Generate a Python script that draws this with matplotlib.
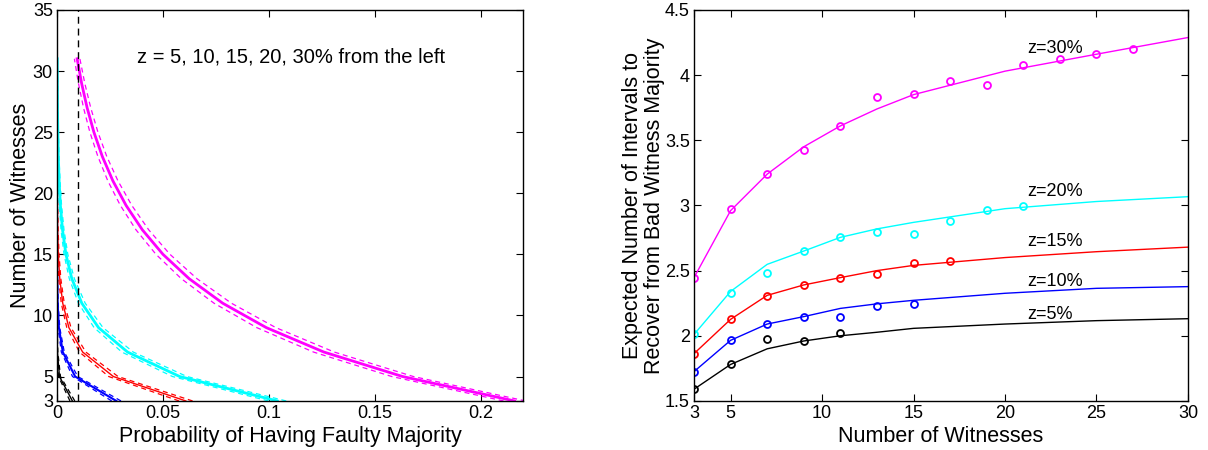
import numpy as np
import matplotlib
matplotlib.use("Agg")
import matplotlib.pyplot as plt

plt.rcParams['font.family'] = ['Liberation Sans', 'DejaVu Sans']

# ---- left panel: probability of faulty majority vs number of witnesses
witnesses = [3, 5, 7, 9, 11, 13, 15, 17, 19, 21, 23, 25, 27, 29, 31]

prob_5 = [0.00725, 0.00116, 0.00019, 0.00003, 0.000006, 0, 0, 0, 0, 0, 0, 0, 0, 0, 0]
prob_10 = [0.028, 0.00856, 0.00273, 0.00089, 0.0003, 0.0001, 0.00003, 0.00001,
           0, 0, 0, 0, 0, 0, 0]
prob_15 = [0.0608, 0.0266, 0.0121, 0.0056, 0.0027, 0.0013, 0.0006, 0.0003,
           0.00015, 0.00007, 0.00004, 0.00002, 0.00001, 0.000005, 0.000002]
prob_20 = [0.104, 0.0579, 0.0333, 0.0196, 0.0117, 0.0070, 0.0042, 0.0026,
           0.0016, 0.0010, 0.0006, 0.0004, 0.0002, 0.00014, 0.00009]
prob_30 = [0.216, 0.1631, 0.1260, 0.0988, 0.0782, 0.0624, 0.0500, 0.0403,
           0.0326, 0.0264, 0.0214, 0.0174, 0.0142, 0.0116, 0.0095]

# half widths of the dashed confidence bands
hw_5 = [0.00115, 0.00047, 0.0002, 0.00007, 0.00004, 0.00001, 0, 0, 0, 0, 0, 0, 0, 0, 0]
hw_10 = [0.0022, 0.00125, 0.0007, 0.0004, 0.00024, 0.00013, 0.00007, 0.00005,
         0.00002, 0.00001, 0, 0, 0, 0, 0]
hw_15 = [0.0032, 0.0022, 0.0015, 0.0010, 0.0007, 0.0005, 0.00034, 0.00024,
         0.00017, 0.00012, 0.00008, 0.00006, 0.00005, 0.00004, 0.00002]
hw_20 = [0.0042, 0.0034, 0.0027, 0.0021, 0.0016, 0.0012, 0.0009, 0.0007,
         0.00055, 0.00043, 0.00034, 0.00028, 0.0002, 0.00016, 0.00013]
hw_30 = [0.0052, 0.0051, 0.0049, 0.0045, 0.0041, 0.0037, 0.0033, 0.0030,
         0.0027, 0.0024, 0.0021, 0.0019, 0.0017, 0.0015, 0.0013]

# ---- right panel: expected number of intervals to recover
model_x = [3, 5, 7, 9, 11, 13, 15, 20, 25, 30]
model_5 = [1.59, 1.78, 1.90, 1.96, 2.00, 2.027, 2.057, 2.09, 2.116, 2.131]
model_10 = [1.725, 1.965, 2.09, 2.147, 2.21, 2.245, 2.272, 2.326, 2.364, 2.377]
model_15 = [1.863, 2.126, 2.31, 2.39, 2.446, 2.50, 2.54, 2.60, 2.645, 2.68]
model_20 = [2.01, 2.34, 2.548, 2.65, 2.755, 2.82, 2.87, 2.975, 3.03, 3.067]
model_30 = [2.446, 2.96, 3.24, 3.45, 3.61, 3.74, 3.85, 4.03, 4.16, 4.288]

sim_x_5 = [3, 5, 7, 9, 11]
sim_5 = [1.592, 1.78, 1.978, 1.958, 2.024]
sim_x_10 = [3, 5, 7, 9, 11, 13, 15]
sim_10 = [1.725, 1.965, 2.088, 2.147, 2.144, 2.229, 2.246]
sim_x_15 = [3, 5, 7, 9, 11, 13, 15, 17]
sim_15 = [1.863, 2.126, 2.305, 2.39, 2.443, 2.476, 2.556, 2.571]
sim_x_20 = [3, 5, 7, 9, 11, 13, 15, 17, 19, 21]
sim_20 = [2.01, 2.33, 2.48, 2.65, 2.76, 2.796, 2.783, 2.878, 2.965, 2.993]
sim_x_30 = [3, 5, 7, 9, 11, 13, 15, 17, 19, 21, 23, 25, 27]
sim_30 = [2.446, 2.975, 3.24, 3.425, 3.607, 3.829, 3.852, 3.954, 3.923, 4.079,
          4.12, 4.159, 4.199]

labels = ['z=5%', 'z=10%', 'z=15%', 'z=20%', 'z=30%']
label_y = [2.163, 2.42, 2.72, 3.107, 4.207]
colors = ['black', 'blue', 'red', 'cyan', 'magenta']
widths = [1.0, 1.5, 1.0, 2.0, 2.0]


def style_axes(ax):
    ax.tick_params(direction='in', top=True, right=True, length=5,
                   labelsize=13, pad=3)
    for s in ax.spines.values():
        s.set_linewidth(1.0)


fig = plt.figure(figsize=(12.08, 4.5), dpi=100)
ax1 = fig.add_axes([0.0472, 0.109, 0.3858, 0.869])
ax2 = fig.add_axes([0.5745, 0.109, 0.4089, 0.869])

probs = [prob_5, prob_10, prob_15, prob_20, prob_30]
hws = [hw_5, hw_10, hw_15, hw_20, hw_30]
for p, h, c, w in zip(probs, hws, colors, widths):
    p = np.array(p)
    h = np.array(h)
    ax1.plot(p, witnesses, color=c, lw=w)
    ax1.plot(p - h, witnesses, color=c, lw=0.9, ls=(0, (4, 3)))
    ax1.plot(p + h, witnesses, color=c, lw=0.9, ls=(0, (4, 3)))

ax1.axvline(0.01, color='black', lw=1, ls=(0, (5, 3.5)))
ax1.text(0.0377, 31.15, 'z = 5, 10, 15, 20, 30% from the left',
         fontsize=14.5, va='center')
ax1.set_xlim(0, 0.22)
ax1.set_ylim(3, 35)
ax1.set_xticks([0, 0.05, 0.1, 0.15, 0.2])
ax1.set_xticklabels(['0', '0.05', '0.1', '0.15', '0.2'])
ax1.set_yticks([3, 5, 10, 15, 20, 25, 30, 35])
ax1.set_xlabel('Probability of Having Faulty Majority', fontsize=15.5, labelpad=3)
ax1.set_ylabel('Number of Witnesses', fontsize=15.5, labelpad=1)
style_axes(ax1)

models = [model_5, model_10, model_15, model_20, model_30]
sims_x = [sim_x_5, sim_x_10, sim_x_15, sim_x_20, sim_x_30]
sims = [sim_5, sim_10, sim_15, sim_20, sim_30]
for m, sx, sy, c, lab, ly in zip(models, sims_x, sims, colors, labels, label_y):
    ax2.plot(model_x, m, color=c, lw=1.0)
    ax2.plot(sx, sy, 'o', mfc='none', mec=c, mew=1.3, ms=5)
    ax2.text(21.2, ly, lab, fontsize=13, va='center')

ax2.set_xlim(3, 30)
ax2.set_ylim(1.5, 4.5)
ax2.set_xticks([3, 5, 10, 15, 20, 25, 30])
ax2.set_yticks([1.5, 2, 2.5, 3, 3.5, 4, 4.5])
ax2.set_yticklabels(['1.5', '2', '2.5', '3', '3.5', '4', '4.5'])
ax2.set_xlabel('Number of Witnesses', fontsize=15.5, labelpad=3)
ax2.set_ylabel('Expected Number of Intervals to\nRecover from Bad Witness Majority',
               fontsize=15.5, labelpad=0, linespacing=1.05)
style_axes(ax2)

fig.savefig('out.png', dpi=100)
